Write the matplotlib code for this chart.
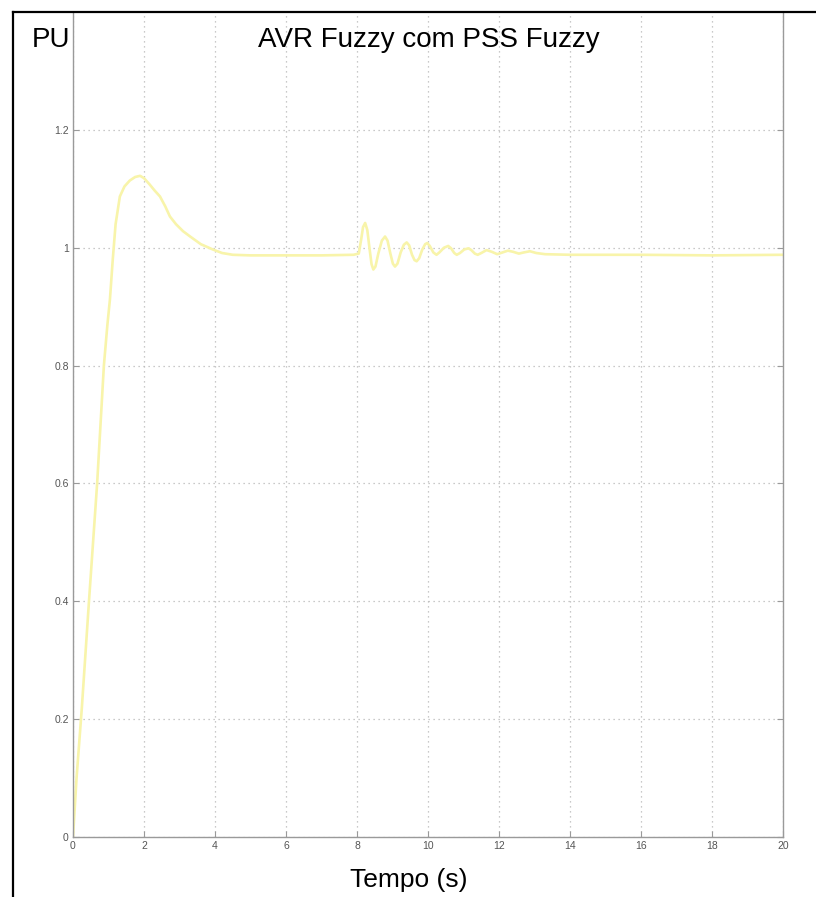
import matplotlib
matplotlib.use("Agg")
import matplotlib.pyplot as plt
from matplotlib.lines import Line2D

# Terminal voltage response (pu) vs time (s)
t = [0.0, 0.1, 0.25, 0.45, 0.68, 0.87, 0.97, 1.04, 1.12, 1.2, 1.32, 1.45,
     1.6, 1.75, 1.89, 2.0, 2.15, 2.3, 2.45, 2.6, 2.73, 2.9, 3.1, 3.3, 3.6,
     3.94, 4.2, 4.5, 5.0, 6.0, 7.0, 7.9,
     8.05, 8.12, 8.17, 8.23, 8.29, 8.35, 8.41, 8.46, 8.52, 8.60, 8.70, 8.79,
     8.86, 8.94, 9.01, 9.07, 9.14, 9.23, 9.32, 9.40, 9.47, 9.55, 9.62, 9.68,
     9.75, 9.84, 9.92, 9.98, 10.05, 10.15, 10.24, 10.32, 10.45, 10.57,
     10.65, 10.74, 10.81, 10.90, 11.02, 11.14, 11.22, 11.32, 11.40, 11.50,
     11.65, 11.80, 11.95, 12.10, 12.25, 12.40, 12.56, 12.70, 12.87, 13.05,
     13.3, 14.0, 16.0, 18.0, 20.0]
v = [0.0, 0.1, 0.22, 0.4, 0.6, 0.8, 0.87, 0.912, 0.98, 1.04, 1.087, 1.104,
     1.114, 1.12, 1.122, 1.118, 1.108, 1.097, 1.087, 1.07, 1.053, 1.04,
     1.028, 1.019, 1.006, 0.997, 0.991, 0.988, 0.987, 0.987, 0.987, 0.988,
     0.990, 1.015, 1.035, 1.042, 1.030, 1.000, 0.972, 0.963, 0.968, 0.990,
     1.012, 1.019, 1.012, 0.990, 0.973, 0.968, 0.973, 0.992, 1.005, 1.009,
     1.004, 0.988, 0.979, 0.977, 0.982, 0.997, 1.006, 1.008, 1.003, 0.992,
     0.988, 0.992, 1.000, 1.003, 0.999, 0.991, 0.988, 0.991, 0.997, 0.999,
     0.996, 0.990, 0.988, 0.991, 0.996, 0.993, 0.989, 0.992, 0.995, 0.993,
     0.990, 0.992, 0.994, 0.991, 0.989, 0.988, 0.988, 0.987, 0.988]

x_ticks = [0, 2, 4, 6, 8, 10, 12, 14, 16, 18, 20]
y_ticks = [0, 0.2, 0.4, 0.6, 0.8, 1.0, 1.2]
y_tick_labels = ["0", "0.2", "0.4", "0.6", "0.8", "1", "1.2"]

W, H = 816, 897
fig = plt.figure(figsize=(W / 100, H / 100), dpi=100)
fig.patch.set_facecolor("white")

ax = fig.add_axes([73 / W, (H - 837) / H, (783 - 73) / W, (837 - 12) / H])
ax.plot(t, v, color="#f8f4aa", lw=1.9, solid_joinstyle="round")
ax.set_xlim(0, 20)
ax.set_ylim(0, 1.4)
ax.set_xticks(x_ticks)
ax.set_xticklabels([str(x) for x in x_ticks])
ax.set_yticks(y_ticks)
ax.set_yticklabels(y_tick_labels)
ax.grid(True, color="#b8b8b8", linestyle=(0, (1, 3)), lw=0.9)
for side in ("left", "bottom", "right"):
    ax.spines[side].set_color("#9a9a9a")
    ax.spines[side].set_linewidth(1.0)
ax.spines["top"].set_visible(False)
ax.tick_params(direction="in", length=4, width=0.8, color="#9a9a9a",
               labelsize=7.5, labelcolor="#555555", pad=3,
               right=True, top=False)
for lab in ax.get_xticklabels() + ax.get_yticklabels():
    lab.set_family("Liberation Sans")

# outer black frame (top and left edges)
fig.add_artist(Line2D([13 / W, 1.0], [1 - 12 / H, 1 - 12 / H],
                      transform=fig.transFigure, color="black", lw=1.6))
fig.add_artist(Line2D([13 / W, 13 / W], [0.0, 1 - 12 / H],
                      transform=fig.transFigure, color="black", lw=1.6))

fig.text(32 / W, 1 - 47 / H, "PU", fontsize=20, family="Liberation Sans",
         ha="left", va="baseline", color="black")
fig.text(429 / W, 1 - 47 / H, "AVR Fuzzy com PSS Fuzzy", fontsize=20,
         family="Liberation Sans", ha="center", va="baseline", color="black")
fig.text(409 / W, 1 - 887 / H, "Tempo (s)", fontsize=19,
         family="Liberation Sans", ha="center", va="baseline", color="black")

fig.savefig("out.png", dpi=100, facecolor="white")
